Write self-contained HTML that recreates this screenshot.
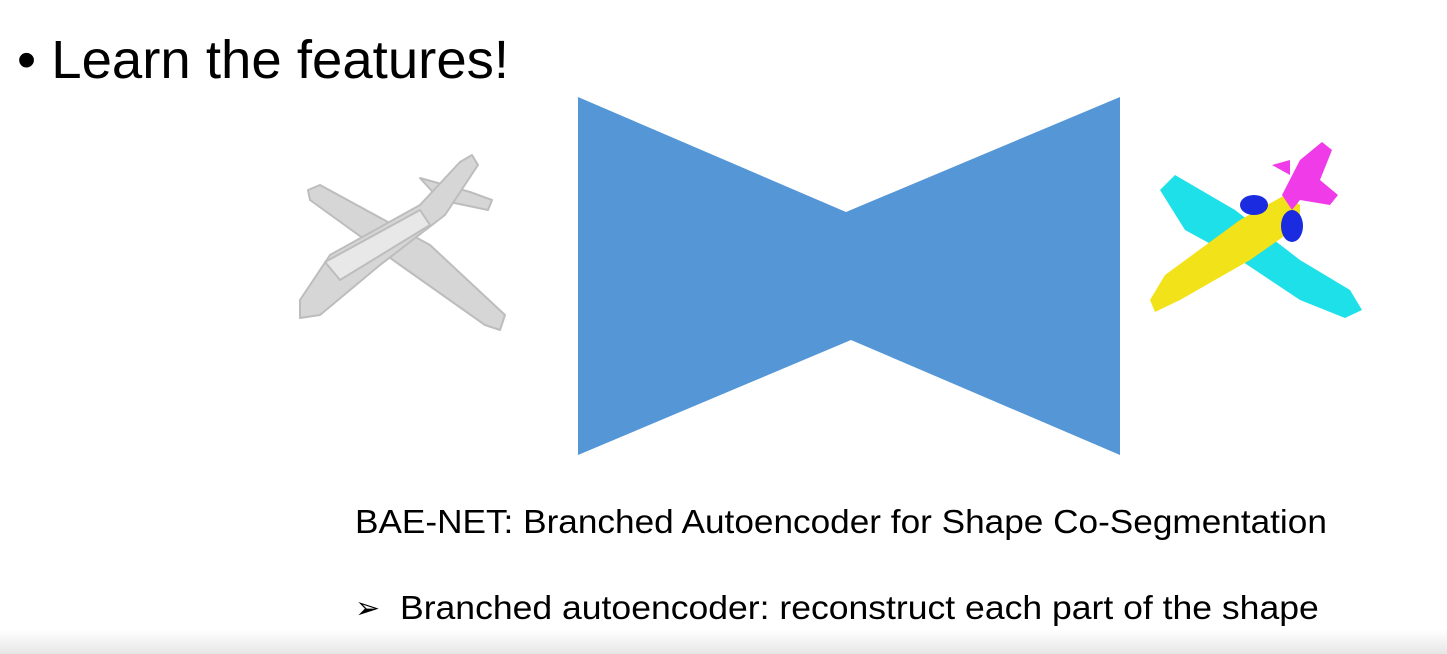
<!DOCTYPE html>
<html><head><meta charset="utf-8"><style>
html,body{margin:0;padding:0;background:#fff;width:1447px;height:654px;overflow:hidden;position:relative;font-family:"Liberation Sans","DejaVu Sans",sans-serif;color:#000}
.t{position:absolute;white-space:nowrap;transform-origin:0 0}
</style></head><body>
<div class="t" style="left:17px;top:25px;font-size:54px;line-height:70px;transform:scaleX(1.01)">•&nbsp;Learn the features!</div>
<svg width="1447" height="654" style="position:absolute;left:0;top:0">
<defs><linearGradient id="bg" x1="0" y1="0" x2="0" y2="1"><stop offset="0" stop-color="#fff"/><stop offset="1" stop-color="#e6e6e6"/></linearGradient></defs>
<rect x="0" y="630" width="1447" height="24" fill="url(#bg)"/>
<polygon points="578,97 846,212 1120,97 1120,455 851,340 578,455" fill="#5597d6"/>
<g fill="#d6d6d6" stroke="#bdbdbd" stroke-width="2" stroke-linejoin="round">
<polygon points="308,190 320,185 430,245 505,315 500,330 485,325 400,265 310,200"/>
<polygon points="420,178 470,192 492,200 488,210 440,200"/>
<polygon points="300,300 330,255 420,205 460,162 472,155 478,165 445,215 380,265 320,315 300,318"/>
<polygon points="325,262 420,210 430,225 340,280" fill="#e8e8e8"/>
</g>
<polygon points="1160,190 1175,175 1235,210 1300,260 1350,290 1362,310 1345,318 1300,300 1240,260 1185,230" fill="#1ee0e8"/>
<polygon points="1150,300 1165,275 1240,220 1285,195 1300,205 1300,225 1250,260 1180,300 1155,312" fill="#f2e21a"/>
<ellipse cx="1254" cy="205" rx="14" ry="10" fill="#1a2be0"/>
<ellipse cx="1292" cy="226" rx="11" ry="16" fill="#1a2be0"/>
<polygon points="1282,195 1300,160 1322,142 1332,150 1320,180 1338,195 1330,205 1300,200 1292,210" fill="#f03ce8"/>
<polygon points="1272,165 1290,160 1290,175" fill="#f03ce8"/>
</svg>
<div class="t" style="left:355px;top:501px;font-size:33px;line-height:42px;transform:scaleX(1.066)">BAE-NET: Branched Autoencoder for Shape Co-Segmentation</div>
<div class="t" style="left:355px;top:589px;font-size:30px;line-height:40px">➢</div>
<div class="t" style="left:400px;top:587px;font-size:33px;line-height:42px;transform:scaleX(1.077)">Branched autoencoder: reconstruct each part of the shape</div>
</body></html>
